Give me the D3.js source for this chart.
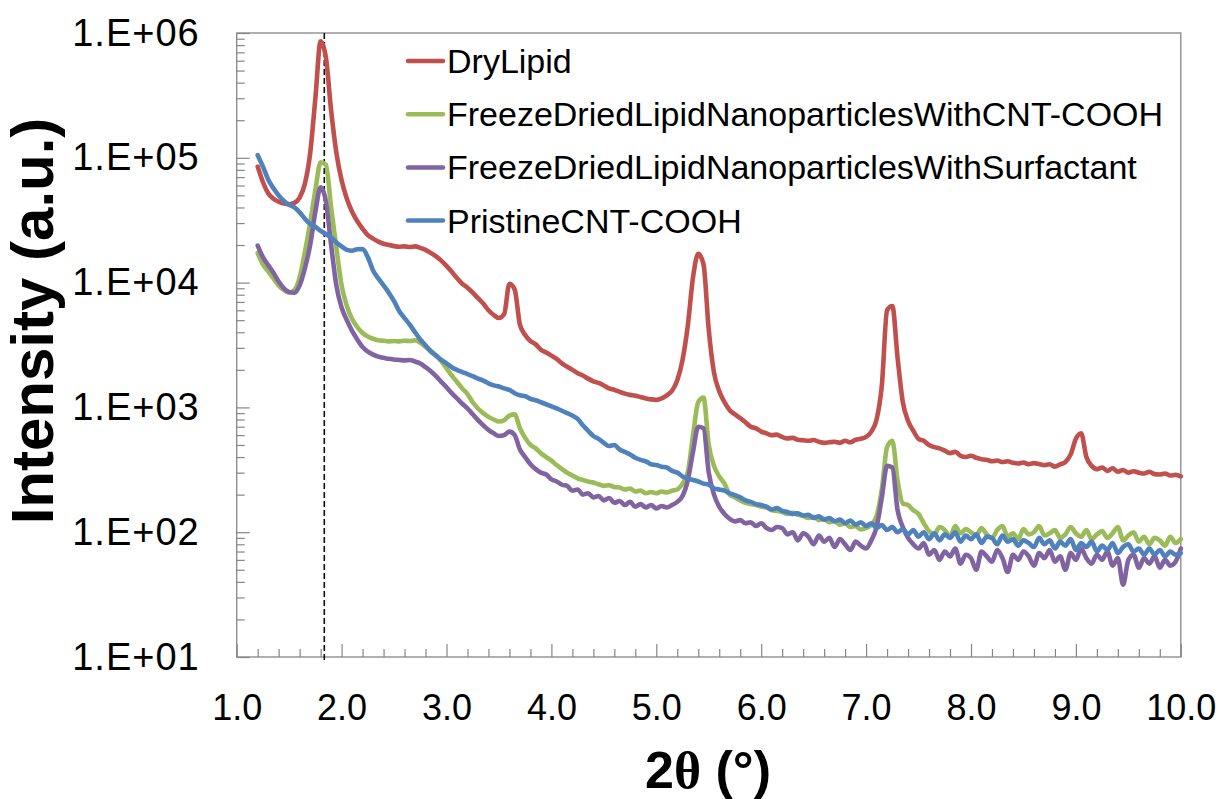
<!DOCTYPE html>
<html>
<head>
<meta charset="utf-8">
<script src="https://cdn.jsdelivr.net/npm/d3@7"></script>
<style>
  html, body { margin: 0; padding: 0; background: #fff; }
  svg { display: block; font-family: Arial, "Liberation Sans", sans-serif; }
</style>
</head>
<body>
<svg id="chart" width="1223" height="799"></svg>
<script>
// 2θ sampling grid (degrees), 0.05° steps from 1.20° to 10.00°
const twoTheta = d3.range(177).map(i => +(1.2 + i * 0.05).toFixed(2));

// Intensities (a.u.) on the grid above
const dryLipid = [
  85000, 64000, 52000, 47000, 44500, 43000, 42500, 43500, 48000, 62000,
  108000, 300000, 860000, 640000, 240000, 110000, 66000, 47000, 37000, 31000,
  27000, 24000, 22500, 21300, 20500, 20000, 19600, 19400, 19500, 19300,
  19500, 19000, 18300, 17300, 16200, 15000, 13600, 12200, 10900, 9800,
  9100, 8300, 7500, 6800, 6000, 5500, 5200, 5600, 9800, 8800,
  4600, 3800, 3400, 3200, 2900, 2750, 2600, 2450, 2250, 2120,
  2000, 1880, 1800, 1700, 1620, 1570, 1500, 1420, 1380, 1330,
  1290, 1260, 1240, 1210, 1180, 1160, 1150, 1180, 1250, 1360,
  1650, 2400, 4500, 11000, 17000, 14000, 4200, 1900, 1350, 1100,
  950, 880, 820, 760, 700, 680, 640, 620, 600, 605,
  580, 565, 570, 550, 545, 540, 548, 530, 520, 525,
  530, 520, 540, 525, 550, 560, 580, 640, 800, 1500,
  6000, 6500, 2500, 1100, 780, 650, 560, 540, 500, 480,
  470, 450, 430, 440, 410, 400, 410, 395, 385, 380,
  370, 375, 365, 370, 360, 355, 362, 350, 358, 352,
  345, 350, 335, 350, 365, 420, 560, 620, 400, 340,
  320, 330, 310, 325, 305, 315, 300, 308, 300, 295,
  305, 292, 290, 295, 285, 288, 280
];

const lnpCntCooh = [
  17200, 14000, 12300, 10800, 9500, 8700, 8300, 8700, 11000, 17500,
  30000, 55000, 92000, 88000, 40000, 19000, 9500, 6500, 5100, 4400,
  3950, 3700, 3550, 3450, 3420, 3380, 3400, 3380, 3420, 3400,
  3450, 3300, 3050, 2850, 2600, 2350, 2050, 1800, 1600, 1420,
  1280, 1100, 980, 900, 840, 800, 770, 790, 860, 880,
  680, 570, 500, 470, 430, 400, 375, 345, 320, 300,
  285, 270, 262, 255, 250, 242, 235, 238, 230, 228,
  220, 224, 212, 216, 205, 210, 205, 212, 208, 215,
  220, 245, 300, 600, 1100, 1200, 500, 340, 280, 245,
  200, 190, 180, 172, 168, 165, 160, 158, 150, 148,
  145, 140, 143, 138, 135, 130, 133, 125, 128, 120,
  123, 115, 118, 110, 112, 105, 108, 115, 135, 220,
  480, 540, 260, 170, 165, 150, 140, 118, 102, 96,
  110, 104, 92, 112, 98, 106, 100, 94, 108, 96,
  90, 104, 112, 92, 98, 88, 106, 96, 100, 112,
  94, 98, 104, 90, 96, 110, 98, 92, 104, 88,
  96, 102, 90, 98, 110, 86, 94, 100, 84, 92,
  80, 90, 86, 78, 92, 82, 88
];

const lnpSurfactant = [
  19800, 16000, 13800, 12000, 10200, 9000, 8400, 8300, 9500, 13000,
  20000, 37000, 58000, 45000, 20000, 9500, 6300, 5000, 4100, 3500,
  3050, 2800, 2650, 2550, 2500, 2450, 2420, 2400, 2380, 2400,
  2330, 2250, 2100, 1950, 1780, 1600, 1450, 1300, 1180, 1070,
  980, 880, 790, 720, 660, 620, 590, 600, 640, 600,
  460, 400, 350, 320, 300, 290, 265, 255, 240, 235,
  215, 220, 200, 205, 190, 195, 180, 188, 172, 178,
  165, 175, 160, 168, 158, 165, 155, 162, 158, 165,
  175, 195, 260, 440, 700, 680, 300, 200, 160, 140,
  128, 122, 125, 118, 120, 112, 118, 108, 104, 110,
  108, 96, 100, 86, 98, 92, 80, 94, 84, 90,
  76, 88, 80, 72, 84, 78, 74, 86, 110, 190,
  340, 330, 150, 110, 90, 80, 74, 82, 66, 72,
  60, 70, 64, 74, 56, 66, 62, 50, 70, 64,
  58, 72, 62, 48, 66, 60, 70, 64, 54, 68,
  62, 72, 58, 64, 50, 68, 60, 74, 62, 56,
  66, 60, 70, 54, 62, 38, 60, 66, 52, 62,
  56, 64, 52, 60, 54, 58, 74
];

const pristineCntCooh = [
  105000, 85000, 67000, 57000, 50000, 45000, 42000, 40000, 36500, 32500,
  29500, 28000, 26000, 24500, 23000, 21000, 19500, 18300, 18000, 18500,
  18600, 16000, 12500, 10800, 9500, 8300, 7100, 5900, 5200, 4600,
  4000, 3500, 3150, 2800, 2600, 2400, 2250, 2100, 2000, 1920,
  1850, 1780, 1700, 1640, 1560, 1500, 1470, 1420, 1380, 1300,
  1250, 1230, 1170, 1140, 1100, 1060, 1020, 980, 940, 900,
  860, 810, 720, 650, 590, 560, 520, 490, 500, 460,
  440, 420, 395, 380, 370, 350, 345, 335, 330, 310,
  300, 280, 270, 262, 255, 245, 240, 225, 220, 215,
  205, 198, 190, 180, 175, 168, 165, 160, 152, 156,
  148, 145, 140, 142, 136, 138, 130, 134, 126, 130,
  122, 126, 118, 124, 115, 120, 112, 118, 108, 114,
  104, 110, 100, 106, 96, 104, 92, 100, 88, 98,
  86, 96, 90, 100, 84, 94, 88, 96, 82, 92,
  90, 80, 94, 84, 88, 78, 86, 82, 76, 90,
  80, 86, 74, 84, 78, 88, 72, 82, 76, 84,
  70, 78, 72, 82, 68, 76, 80, 70, 74, 66,
  74, 66, 72, 64, 70, 66, 68
];

const seriesNames = [
  "DryLipid",
  "FreezeDriedLipidNanoparticlesWithCNT-COOH",
  "FreezeDriedLipidNanoparticlesWithSurfactant",
  "PristineCNT-COOH"
];
const seriesValues = [dryLipid, lnpCntCooh, lnpSurfactant, pristineCntCooh];
const seriesColors = ["#C0504D", "#9BBB59", "#8064A2", "#4F81BD"];

// Axis ticks and labels
const xMajorTicks = [1, 2, 3, 4, 5, 6, 7, 8, 9, 10];
const xTickLabels = ["1.0", "2.0", "3.0", "4.0", "5.0", "6.0", "7.0", "8.0", "9.0", "10.0"];
const yMajorTicks = [1e1, 1e2, 1e3, 1e4, 1e5, 1e6];
const yTickLabels = ["1.E+01", "1.E+02", "1.E+03", "1.E+04", "1.E+05", "1.E+06"];

// Position of the dashed reference line (2θ, degrees)
const refAngle = 1.835;

// ---- layout ----
const plot = { left: 236.7, right: 1180.8, top: 33, bottom: 657 };
const axisGray = "#868686";

const svg = d3.select("#chart");
svg.append("rect").attr("width", 1223).attr("height", 799).attr("fill", "#fff");

const x = d3.scaleLinear().domain([1, 10]).range([plot.left, plot.right]);
const y = d3.scaleLog().domain([10, 1e6]).range([plot.bottom, plot.top]);

// minor tick positions
const xMinorTicks = d3.range(10, 100, 2).filter(v => v % 10 !== 0).map(v => v / 10);
const yMinorTicks = [];
for (let e = 1; e < 6; e++) for (let m = 2; m <= 9; m++) yMinorTicks.push(m * Math.pow(10, e));

function styleAxis(g) {
  g.selectAll(".domain").remove();
  g.selectAll(".tick line").attr("stroke", axisGray).attr("stroke-width", 1.2);
  g.selectAll(".tick text").attr("fill", "#000");
}

// X axis
svg.append("g")
  .attr("transform", `translate(0,${plot.bottom})`)
  .call(d3.axisBottom(x).tickValues(xMinorTicks).tickSizeInner(-8).tickSizeOuter(0).tickFormat(""))
  .call(styleAxis);
svg.append("g")
  .attr("transform", `translate(0,${plot.bottom})`)
  .call(d3.axisBottom(x).tickValues(xMajorTicks).tickSizeInner(-13).tickSizeOuter(0)
        .tickPadding(37).tickFormat((d, i) => xTickLabels[i]))
  .call(styleAxis)
  .call(g => g.selectAll(".tick text").attr("font-size", 36).attr("font-family", "Arial, 'Liberation Sans', sans-serif"));

// Y axis
svg.append("g")
  .attr("transform", `translate(${plot.left},0)`)
  .call(d3.axisLeft(y).tickValues(yMinorTicks).tickSizeInner(-8).tickSizeOuter(0).tickFormat(""))
  .call(styleAxis);
svg.append("g")
  .attr("transform", `translate(${plot.left},0)`)
  .call(d3.axisLeft(y).tickValues(yMajorTicks).tickSizeInner(-13).tickSizeOuter(0)
        .tickPadding(37).tickFormat((d, i) => yTickLabels[i]))
  .call(styleAxis)
  .call(g => g.selectAll(".tick text")
    .attr("font-size", 38)
    .attr("letter-spacing", 1)
    .attr("font-family", "Arial, 'Liberation Sans', sans-serif"));

// Plot frame
svg.append("rect")
  .attr("x", plot.left).attr("y", plot.top)
  .attr("width", plot.right - plot.left).attr("height", plot.bottom - plot.top)
  .attr("fill", "none").attr("stroke", axisGray).attr("stroke-width", 1.3);

// Dashed reference line
svg.append("line")
  .attr("x1", x(refAngle)).attr("x2", x(refAngle))
  .attr("y1", plot.top).attr("y2", plot.bottom + 5)
  .attr("stroke", "#111").attr("stroke-width", 1.6)
  .attr("stroke-dasharray", "6,3");

// Series
const line = d3.line()
  .x((d, i) => x(twoTheta[i]))
  .y(d => y(d))
  .curve(d3.curveMonotoneX);

svg.append("g").selectAll("path")
  .data(seriesValues)
  .join("path")
  .attr("d", line)
  .attr("fill", "none")
  .attr("stroke", (d, i) => seriesColors[i])
  .attr("stroke-width", 4.6)
  .attr("stroke-linejoin", "round")
  .attr("stroke-linecap", "round");

// Legend
const legend = svg.append("g").attr("transform", "translate(408,61)");
const items = legend.selectAll("g")
  .data(seriesNames)
  .join("g")
  .attr("transform", (d, i) => `translate(0,${i * 53.2})`);
items.append("line")
  .attr("x1", 0).attr("x2", 35).attr("y1", 0).attr("y2", 0)
  .attr("stroke", (d, i) => seriesColors[i])
  .attr("stroke-width", 4.5)
  .attr("stroke-linecap", "round");
items.append("text")
  .attr("x", 39).attr("y", 0).attr("dy", "0.35em")
  .attr("font-size", 34)
  .attr("fill", "#000")
  .text(d => d);

// Axis titles
svg.append("text")
  .attr("transform", "translate(53,321) rotate(-90)")
  .attr("text-anchor", "middle")
  .attr("font-size", 60)
  .attr("font-weight", "bold")
  .attr("fill", "#000")
  .text("Intensity (a.u.)");

const xTitle = svg.append("text")
  .attr("x", 708).attr("y", 788)
  .attr("text-anchor", "middle")
  .attr("font-size", 52)
  .attr("font-weight", "bold")
  .attr("fill", "#000");
xTitle.append("tspan").text("2");
xTitle.append("tspan").attr("font-family", "'Liberation Serif', 'DejaVu Serif', serif").text("θ");
xTitle.append("tspan").text(" (°)");
</script>
</body>
</html>
